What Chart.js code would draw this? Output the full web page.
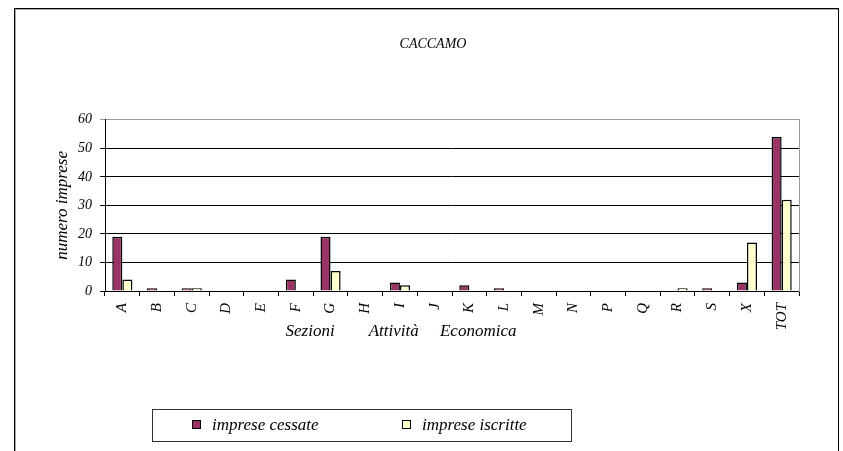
<!DOCTYPE html>
<html>
<head>
<meta charset="utf-8">
<script src="https://cdn.jsdelivr.net/npm/chart.js@4/dist/chart.umd.min.js"></script>
<style>
  body { margin: 0; background: #fff; font-family: "Liberation Serif", "Times New Roman", serif; }
  #frame { position: absolute; left: 14px; top: 8px; width: 823px; height: 480px; border: 1px solid #000; box-shadow: inset 1px 1px 0 #aaa; }
  #wrap { position: absolute; left: 0; top: 0; width: 843px; height: 451px; }
  #legend { position: absolute; left: 152px; top: 409px; width: 418px; height: 31px; border: 1px solid #333; font-style: italic; font-size: 17px; }
  #legend .item { position: absolute; top: 5px; white-space: nowrap; }
  #legend .box { display: inline-block; width: 7px; height: 7px; border: 1px solid #000; margin-right: 11px; vertical-align: 1px; }
</style>
</head>
<body>
<div id="frame"></div>
<div id="wrap"><canvas id="canvas-1" width="843" height="451"></canvas></div>
<div id="legend"></div>
<script>
  'use strict';

  var sezioni = ['A','B','C','D','E','F','G','H','I','J','K','L','M','N','P','Q','R','S','X','TOT'];
  var cessate = [19,1,1,0,0,4,19,0,3,0,2,1,0,0,0,0,0,1,3,54];
  var iscritte = [4,0,1,0,0,0,7,0,2,0,0,0,0,0,0,0,1,0,17,32];
  var yTicks = [0,10,20,30,40,50,60];

  var serif = '"Liberation Serif", "Times New Roman", serif';
  var em = '\u2003';

  var barData = {
    labels : sezioni,
    datasets : [
      {
        label: 'imprese cessate',
        backgroundColor: '#993366',
        borderColor: '#000',
        borderWidth: 1.5,
        data : cessate
      },
      {
        label: 'imprese iscritte',
        backgroundColor: '#FFFFCC',
        borderColor: '#000',
        borderWidth: 1.5,
        data : iscritte
      }
    ]
  };

  var ctx = document.getElementById('canvas-1');
  var chart = new Chart(ctx, {
    type: 'bar',
    data: barData,
    options: {
      responsive: false,
      animation: false,
      layout: { padding: { left: 23, right: 0, top: 0, bottom: 100 } },
      datasets: { bar: { categoryPercentage: 0.58, barPercentage: 1 } },
      plugins: {
        legend: { display: false },
        tooltip: { enabled: false },
        title: {
          display: true,
          text: 'CACCAMO',
          color: '#000',
          font: { family: serif, size: 14, style: 'italic', weight: 'normal' },
          padding: { top: 36, bottom: 67 }
        }
      },
      scales: {
        x: {
          grid: { offset: true, drawOnChartArea: false, drawTicks: true, tickLength: 5, color: '#000' },
          border: { color: '#000' },
          ticks: {
            color: '#000', minRotation: 90, maxRotation: 90, padding: 7, autoSkip: false,
            font: { family: serif, size: 15, style: 'italic' }
          },
          title: {
            display: true,
            text: 'Sezioni' + em + em + 'Attività' + em + ' Economica' + em + em + em + em + em + em,
            color: '#000',
            font: { family: serif, size: 17, style: 'italic' },
            padding: { top: 0, bottom: 9 }
          },
          afterFit: function(s){ s.height = 60; }
        },
        y: {
          min: 0,
          max: 60,
          afterBuildTicks: function(s){ s.ticks = yTicks.map(function(v){ return { value: v }; }); },
          grid: {
            color: function(c){ return c.tick && c.tick.value === 60 ? '#999' : '#000'; },
            tickLength: 5
          },
          border: { color: '#000' },
          ticks: {
            color: '#000', padding: 8,
            font: { family: serif, size: 14, style: 'italic' }
          },
          title: {
            display: true,
            text: 'numero imprese',
            color: '#000',
            font: { family: serif, size: 17, style: 'italic' },
            padding: { top: 29, bottom: 0 }
          },
          afterFit: function(s){ s.width = 82; }
        },
        right: {
          position: 'right',
          min: 0,
          max: 60,
          grid: { display: false, drawTicks: false },
          ticks: { display: false },
          border: { color: '#999' },
          afterFit: function(s){ s.width = 44; }
        }
      }
    }
  });

  // legend box built from the datasets
  var legend = document.getElementById('legend');
  var itemLeft = [39, 249];
  barData.datasets.forEach(function(ds, i){
    var item = document.createElement('span');
    item.className = 'item';
    item.style.left = itemLeft[i] + 'px';
    var box = document.createElement('span');
    box.className = 'box';
    box.style.background = ds.backgroundColor;
    item.appendChild(box);
    item.appendChild(document.createTextNode(ds.label));
    legend.appendChild(item);
  });
</script>
</body>
</html>
